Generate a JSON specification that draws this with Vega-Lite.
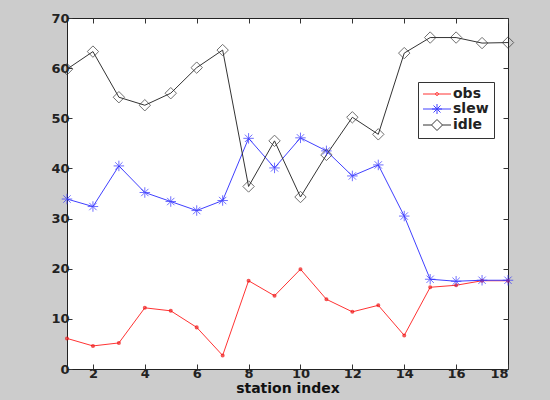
{
  "$schema": "https://vega.github.io/schema/vega-lite/v6.json",
  "width": 441,
  "height": 351,
  "autosize": "none",
  "padding": {"left": 67, "top": 18, "right": 42, "bottom": 31},
  "background": "#cccccc",
  "config": {
    "view": {"stroke": "#222222", "strokeWidth": 1, "fill": "white"},
    "axis": {
      "grid": false,
      "domain": false,
      "tickColor": "#333333",
      "tickSize": -5,
      "labelFont": "DejaVu Sans",
      "labelFontWeight": "bold",
      "labelFontSize": 13,
      "labelColor": "#222222",
      "titleFont": "DejaVu Sans",
      "titleFontWeight": "bold",
      "titleFontSize": 14,
      "titleColor": "#111111"
    }
  },
  "data": {
    "values": [
      {"station": 1, "series": "obs", "value": 6.1},
      {"station": 2, "series": "obs", "value": 4.6},
      {"station": 3, "series": "obs", "value": 5.2},
      {"station": 4, "series": "obs", "value": 12.2},
      {"station": 5, "series": "obs", "value": 11.6},
      {"station": 6, "series": "obs", "value": 8.3},
      {"station": 7, "series": "obs", "value": 2.7},
      {"station": 8, "series": "obs", "value": 17.6},
      {"station": 9, "series": "obs", "value": 14.6},
      {"station": 10, "series": "obs", "value": 19.9},
      {"station": 11, "series": "obs", "value": 13.9},
      {"station": 12, "series": "obs", "value": 11.4},
      {"station": 13, "series": "obs", "value": 12.7},
      {"station": 14, "series": "obs", "value": 6.7},
      {"station": 15, "series": "obs", "value": 16.3},
      {"station": 16, "series": "obs", "value": 16.7},
      {"station": 17, "series": "obs", "value": 17.6},
      {"station": 18, "series": "obs", "value": 17.6},
      {"station": 1, "series": "slew", "value": 33.9},
      {"station": 2, "series": "slew", "value": 32.4},
      {"station": 3, "series": "slew", "value": 40.5},
      {"station": 4, "series": "slew", "value": 35.2},
      {"station": 5, "series": "slew", "value": 33.4},
      {"station": 6, "series": "slew", "value": 31.6},
      {"station": 7, "series": "slew", "value": 33.6},
      {"station": 8, "series": "slew", "value": 46.0},
      {"station": 9, "series": "slew", "value": 40.1},
      {"station": 10, "series": "slew", "value": 46.1},
      {"station": 11, "series": "slew", "value": 43.5},
      {"station": 12, "series": "slew", "value": 38.5},
      {"station": 13, "series": "slew", "value": 40.7},
      {"station": 14, "series": "slew", "value": 30.5},
      {"station": 15, "series": "slew", "value": 17.9},
      {"station": 16, "series": "slew", "value": 17.5},
      {"station": 17, "series": "slew", "value": 17.7},
      {"station": 18, "series": "slew", "value": 17.7},
      {"station": 1, "series": "idle", "value": 59.8},
      {"station": 2, "series": "idle", "value": 63.3},
      {"station": 3, "series": "idle", "value": 54.2},
      {"station": 4, "series": "idle", "value": 52.6},
      {"station": 5, "series": "idle", "value": 55.0},
      {"station": 6, "series": "idle", "value": 60.1},
      {"station": 7, "series": "idle", "value": 63.6},
      {"station": 8, "series": "idle", "value": 36.4},
      {"station": 9, "series": "idle", "value": 45.5},
      {"station": 10, "series": "idle", "value": 34.3},
      {"station": 11, "series": "idle", "value": 42.7},
      {"station": 12, "series": "idle", "value": 50.2},
      {"station": 13, "series": "idle", "value": 46.8},
      {"station": 14, "series": "idle", "value": 63.0},
      {"station": 15, "series": "idle", "value": 66.1},
      {"station": 16, "series": "idle", "value": 66.1},
      {"station": 17, "series": "idle", "value": 65.0},
      {"station": 18, "series": "idle", "value": 65.1}
    ]
  },
  "resolve": {"axis": {"x": "independent", "y": "independent"}},
  "layer": [
    {
      "mark": {"type": "line", "strokeWidth": 1},
      "encoding": {
        "x": {
          "field": "station",
          "type": "quantitative",
          "scale": {"domain": [1, 18], "nice": false, "zero": false},
          "axis": {"values": [2, 4, 6, 8, 10, 12, 14, 16, 18], "title": "station index", "labelPadding": 3, "titlePadding": 1}
        },
        "y": {
          "field": "value",
          "type": "quantitative",
          "scale": {"domain": [0, 70], "nice": false},
          "axis": {"values": [0, 10, 20, 30, 40, 50, 60, 70], "title": null, "labelPadding": 3}
        },
        "color": {
          "field": "series",
          "type": "nominal",
          "scale": {"domain": ["obs", "slew", "idle"], "range": ["#ff3333", "#4040ff", "#333333"]},
          "legend": {
            "orient": "none",
            "legendX": 351,
            "legendY": 64,
            "title": null,
            "fillColor": "white",
            "strokeColor": "#333333",
            "padding": 5,
            "labelFont": "DejaVu Sans",
            "labelFontWeight": "bold",
            "labelFontSize": 14,
            "labelColor": "#222222",
            "symbolSize": 100,
            "symbolStrokeWidth": 1,
            "rowPadding": 1,
            "labelOffset": 16,
            "encode": {
              "symbols": {
                "update": {
                  "shape": {"signal": "datum.value === 'obs' ? 'M-1.4,0H4.2M1.1,0A0.3,0.3 0 1,0 1.7,0A0.3,0.3 0 1,0 1.1,0' : datum.value === 'slew' ? 'M-1.4,0H4.2M0.4,0H2.4M1.4,-1V1M0.7,-0.7L2.1,0.7M0.7,0.7L2.1,-0.7' : 'M-1.4,0H0.3M2.5,0H4.2M0.3,0L1.4,-1.1L2.5,0L1.4,1.1Z'"},
                  "fill": {"value": "transparent"}
                }
              }
            }
          }
        }
      }
    },
    {
      "transform": [{"filter": "datum.series === 'obs'"}],
      "mark": {"type": "point", "filled": false, "strokeWidth": 1.6, "shape": "circle", "size": 6, "color": "#ee1111"},
      "encoding": {
        "x": {"field": "station", "type": "quantitative", "axis": null},
        "y": {"field": "value", "type": "quantitative", "axis": null}
      }
    },
    {
      "transform": [{"filter": "datum.series === 'slew'"}],
      "mark": {"type": "point", "filled": false, "strokeWidth": 1, "shape": "M-1,0H1M0,-1V1M-0.7,-0.7L0.7,0.7M-0.7,0.7L0.7,-0.7", "size": 110, "color": "#3333ff"},
      "encoding": {
        "x": {"field": "station", "type": "quantitative", "axis": null},
        "y": {"field": "value", "type": "quantitative", "axis": null}
      }
    },
    {
      "transform": [{"filter": "datum.series === 'idle'"}],
      "mark": {"type": "point", "filled": false, "strokeWidth": 1, "shape": "diamond", "size": 130, "color": "#333333"},
      "encoding": {
        "x": {"field": "station", "type": "quantitative", "axis": null},
        "y": {"field": "value", "type": "quantitative", "axis": null}
      }
    },
    {
      "mark": {"type": "point", "opacity": 0},
      "encoding": {
        "x": {
          "field": "station",
          "type": "quantitative",
          "axis": {"orient": "top", "values": [2, 4, 6, 8, 10, 12, 14, 16, 18], "labels": false, "title": null}
        },
        "y": {
          "field": "value",
          "type": "quantitative",
          "axis": {"orient": "right", "values": [0, 10, 20, 30, 40, 50, 60, 70], "labels": false, "title": null}
        }
      }
    }
  ]
}
